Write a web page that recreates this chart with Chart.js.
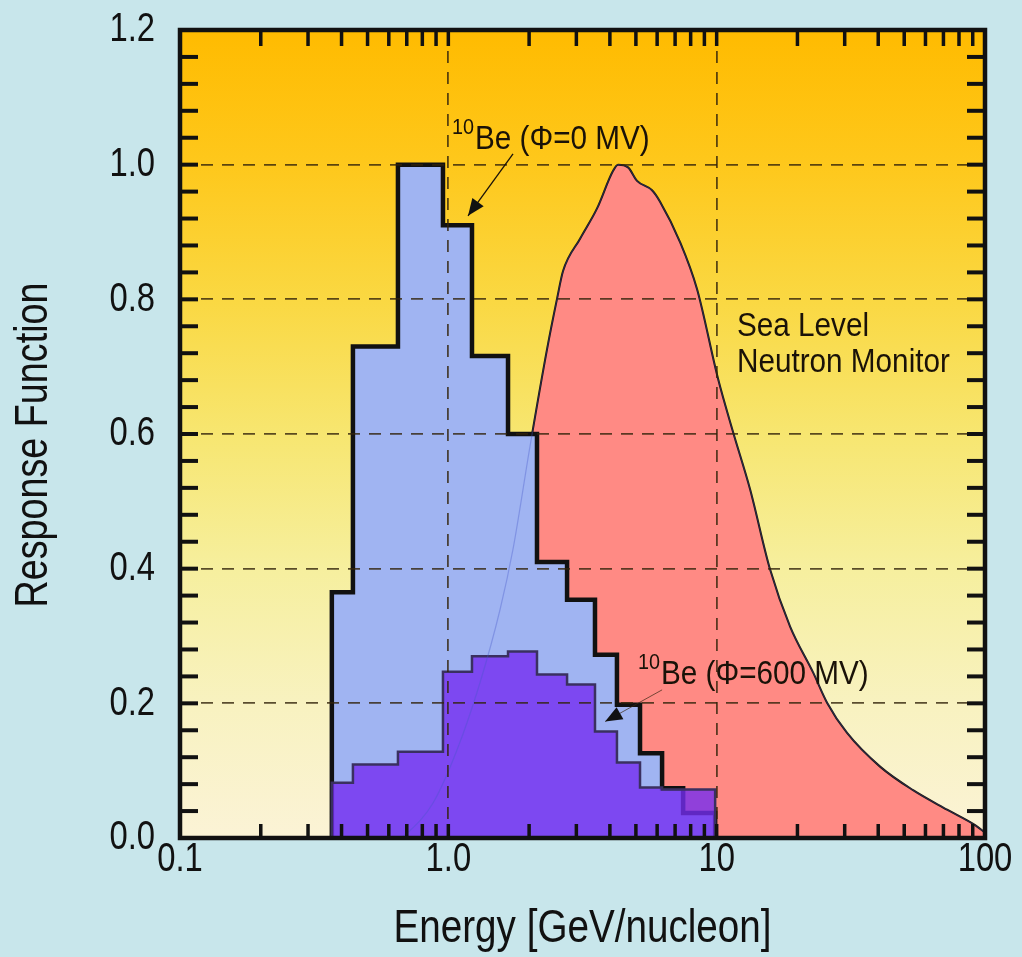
<!DOCTYPE html>
<html>
<head>
<meta charset="utf-8">
<script src="https://cdn.jsdelivr.net/npm/chart.js@4.4.1/dist/chart.umd.min.js"></script>
<style>
  html, body { margin: 0; padding: 0; background: #c8e6eb; }
</style>
</head>
<body>
<canvas id="chart" width="1022" height="957"></canvas>
<script>
// energy bin edges of the 10Be production histograms [GeV/nucleon]
const beEdges = [0.368, 0.441, 0.649, 0.955, 1.225, 1.669, 2.14, 2.77, 3.52, 4.25, 5.18, 6.26, 7.50, 9.87];
// response per bin, solar modulation 0 MV and 600 MV
const be0Values = [0.365, 0.73, 1.0, 0.91, 0.716, 0.60, 0.41, 0.354, 0.272, 0.198, 0.126, 0.074, 0.037];
const be600Values = [0.082, 0.109, 0.128, 0.247, 0.27, 0.277, 0.243, 0.228, 0.158, 0.112, 0.075, 0.072, 0.072];

// sea level neutron monitor response curve
const nmEnergy = [0.661, 0.702, 0.877, 1.078, 1.313, 1.558, 1.742, 2.016, 2.333, 2.542, 2.676, 3.097, 3.583,
  4.111, 4.291, 4.675, 5.05, 5.744, 6.152, 7.304, 8.453, 10.12, 11.51, 13.32, 15.81, 18.78, 22.87, 25.79,
  30.62, 40.64, 53.95, 72.23, 91.86, 100];
const nmResponse = [0, 0.007, 0.052, 0.131, 0.231, 0.339, 0.429, 0.582, 0.726, 0.801, 0.842, 0.89, 0.935,
  0.991, 1.0, 0.996, 0.976, 0.962, 0.945, 0.885, 0.815, 0.682, 0.603, 0.518, 0.399, 0.314, 0.246, 0.201,
  0.156, 0.106, 0.071, 0.042, 0.019, 0.008];

const xTickValues = [0.1, 1, 10, 100];
const xTickLabels = ['0.1', '1.0', '10', '100'];
const yTickValues = [0, 0.2, 0.4, 0.6, 0.8, 1.0, 1.2];
const yTickLabels = ['0.0', '0.2', '0.4', '0.6', '0.8', '1.0', '1.2'];

const plainFont = '"Liberation Sans", Arial, sans-serif';
const gridColor = 'rgba(50, 35, 10, 0.8)';
const ink = '#111';

function stepPoints(edges, values) {
  const pts = [{ x: edges[0], y: 0 }];
  values.forEach((v, i) => pts.push({ x: edges[i], y: v }));
  pts.push({ x: edges[edges.length - 1], y: 0 });
  return pts;
}

// yellow-orange plot background
const plotBackground = {
  id: 'plotBackground',
  beforeDraw(chart) {
    const { ctx, chartArea: a } = chart;
    ctx.save();
    ctx.fillStyle = '#c8e6eb';
    ctx.fillRect(0, 0, chart.width, chart.height);
    const g = ctx.createLinearGradient(0, a.top, 0, a.bottom);
    g.addColorStop(0, '#ffbb00');
    g.addColorStop(0.168, '#fec81c');
    g.addColorStop(0.334, '#fad842');
    g.addColorStop(0.5, '#f7e670');
    g.addColorStop(0.667, '#f6ef9e');
    g.addColorStop(0.834, '#f8f2c0');
    g.addColorStop(1, '#fbf3d6');
    ctx.fillStyle = g;
    ctx.fillRect(a.left, a.top, a.width, a.height);
    ctx.restore();
  },
};

function seg(ctx, x1, y1, x2, y2) {
  ctx.beginPath();
  ctx.moveTo(x1, y1);
  ctx.lineTo(x2, y2);
  ctx.stroke();
}

function arrow(ctx, x1, y1, x2, y2, width) {
  ctx.lineWidth = width;
  seg(ctx, x1, y1, x2, y2);
  const ang = Math.atan2(y2 - y1, x2 - x1);
  const len = 17, half = 7;
  const bx = x2 - len * Math.cos(ang), by = y2 - len * Math.sin(ang);
  ctx.beginPath();
  ctx.moveTo(x2, y2);
  ctx.lineTo(bx + half * Math.sin(ang), by - half * Math.cos(ang));
  ctx.lineTo(bx - half * Math.sin(ang), by + half * Math.cos(ang));
  ctx.closePath();
  ctx.fill();
}

// condensed text: squeeze along the writing direction
function narrowText(ctx, text, x, y, size, squeeze, align, rotate) {
  ctx.save();
  ctx.translate(x, y);
  if (rotate) ctx.rotate(rotate);
  ctx.scale(squeeze, 1);
  ctx.font = size + 'px ' + plainFont;
  ctx.textAlign = align;
  ctx.textBaseline = 'middle';
  ctx.fillText(text, 0, 0);
  ctx.restore();
}

// curve label with a left-aligned alphabetic baseline, slightly condensed
function noteText(ctx, text, x, y, size) {
  ctx.save();
  ctx.translate(x, y);
  ctx.scale(0.9, 1);
  ctx.font = size + 'px ' + plainFont;
  ctx.textAlign = 'left';
  ctx.textBaseline = 'alphabetic';
  ctx.fillText(text, 0, 0);
  const w = ctx.measureText(text).width * 0.9;
  ctx.restore();
  return w;
}

function beLabel(ctx, x, y, rest) {
  const w = noteText(ctx, '10', x, y - 15, 22);
  noteText(ctx, rest, x + w + 1, y, 33);
}

// tick labels and axis titles in a narrow face
const axisText = {
  id: 'axisText',
  afterDraw(chart) {
    const { ctx, chartArea: a, scales: { x, y } } = chart;
    ctx.save();
    ctx.fillStyle = ink;
    x.ticks.forEach((t, i) => {
      narrowText(ctx, xTickLabels[i], x.getPixelForValue(t.value), a.bottom + 22, 41, 0.8, 'center');
    });
    y.ticks.forEach((t, i) => {
      narrowText(ctx, yTickLabels[i], a.left - 25, y.getPixelForValue(t.value), 41, 0.8, 'right');
    });
    narrowText(ctx, 'Energy [GeV/nucleon]', (a.left + a.right) / 2, a.bottom + 91, 46, 0.84, 'center');
    narrowText(ctx, 'Response Function', 34, (a.top + a.bottom) / 2 + 11, 46, 0.82, 'center', -Math.PI / 2);
    ctx.restore();
  },
};

// inward ticks, frame and curve labels
const frameAndLabels = {
  id: 'frameAndLabels',
  afterDraw(chart) {
    const { ctx, chartArea: a, scales: { x, y } } = chart;
    ctx.save();
    ctx.strokeStyle = ink;
    ctx.fillStyle = ink;

    ctx.lineWidth = 4;
    for (let i = 1; i < 30; i++) {
      const py = y.getPixelForValue(i * 0.04);
      seg(ctx, a.left, py, a.left + 18, py);
      seg(ctx, a.right - 18, py, a.right, py);
    }
    ctx.lineWidth = 3.5;
    [0.1, 1, 10].forEach((dec) => {
      for (let m = 1; m <= 9; m++) {
        if (dec === 0.1 && m === 1) continue;
        const px = x.getPixelForValue(dec * m);
        seg(ctx, px, a.top, px, a.top + 16);
        seg(ctx, px, a.bottom - 14, px, a.bottom);
      }
    });
    ctx.lineWidth = 4.5;
    ctx.strokeRect(a.left, a.top, a.width, a.height);

    const px = (e) => x.getPixelForValue(e);
    const py = (v) => y.getPixelForValue(v);
    ctx.fillStyle = '#1a1208';
    beLabel(ctx, px(1.032), py(1.024), 'Be (\u03A6=0 MV)');
    beLabel(ctx, px(5.09), py(0.228), 'Be (\u03A6=600 MV)');
    noteText(ctx, 'Sea Level', px(11.9), py(0.745), 33);
    noteText(ctx, 'Neutron Monitor', px(11.9), py(0.692), 33);

    ctx.strokeStyle = '#1a1208';
    ctx.fillStyle = ink;
    arrow(ctx, px(1.742), py(1.016), px(1.184), py(0.924), 1.3);
    ctx.strokeStyle = 'rgba(60, 40, 20, 0.7)';
    arrow(ctx, px(6.26), py(0.22), px(3.84), py(0.173), 1);
    ctx.restore();
  },
};

const nmPoints = nmEnergy.map((e, i) => ({ x: e, y: nmResponse[i] }));

const config = {
  type: 'line',
  data: {
    datasets: [
      {
        // the monitor curve showing faintly through the histograms
        label: 'Sea Level Neutron Monitor',
        data: nmPoints,
        fill: false,
        borderColor: 'rgba(70, 85, 200, 0.35)',
        borderWidth: 1.2,
        pointRadius: 0,
        cubicInterpolationMode: 'monotone',
      },
      {
        label: '10Be (\u03A6=600 MV)',
        data: stepPoints(beEdges, be600Values),
        stepped: true,
        fill: 'origin',
        backgroundColor: 'rgba(116, 45, 240, 0.8)',
        borderColor: '#3a3060',
        borderWidth: 2.5,
        pointRadius: 0,
      },
      {
        label: '10Be (\u03A6=0 MV)',
        data: stepPoints(beEdges, be0Values),
        stepped: true,
        fill: 'origin',
        backgroundColor: '#a0b4f2',
        borderColor: ink,
        borderWidth: 4.5,
        pointRadius: 0,
      },
      {
        label: 'Sea Level Neutron Monitor',
        data: nmPoints,
        fill: 'origin',
        backgroundColor: '#ff8a84',
        borderColor: '#1a1000',
        borderWidth: 2,
        pointRadius: 0,
        cubicInterpolationMode: 'monotone',
      },
    ],
  },
  options: {
    responsive: false,
    animation: false,
    devicePixelRatio: 1,
    layout: { padding: { top: 30, right: 37, left: 0, bottom: 0 } },
    plugins: {
      legend: { display: false },
      tooltip: { enabled: false },
    },
    scales: {
      x: {
        type: 'logarithmic',
        min: 0.1,
        max: 100,
        afterBuildTicks: (scale) => {
          scale.ticks = xTickValues.map((v) => ({ value: v }));
        },
        afterFit: (scale) => {
          scale.height = 119;
        },
        ticks: { display: false },
        grid: {
          z: 1,
          drawTicks: false,
          lineWidth: 1.8,
          color: (c) => (c.tick && (c.tick.value === 0.1 || c.tick.value === 100) ? 'rgba(0,0,0,0)' : gridColor),
        },
        border: { display: false, dash: [12, 9] },
      },
      y: {
        type: 'linear',
        min: 0,
        max: 1.2,
        afterBuildTicks: (scale) => {
          scale.ticks = yTickValues.map((v) => ({ value: v }));
        },
        afterFit: (scale) => {
          scale.width = 180;
        },
        ticks: { display: false },
        grid: {
          z: 1,
          drawTicks: false,
          lineWidth: 1.8,
          color: (c) => (c.tick && (c.tick.value === 0 || c.tick.value === 1.2) ? 'rgba(0,0,0,0)' : gridColor),
        },
        border: { display: false, dash: [12, 9] },
      },
    },
  },
  plugins: [plotBackground, axisText, frameAndLabels],
};

new Chart(document.getElementById('chart'), config);
</script>
</body>
</html>
